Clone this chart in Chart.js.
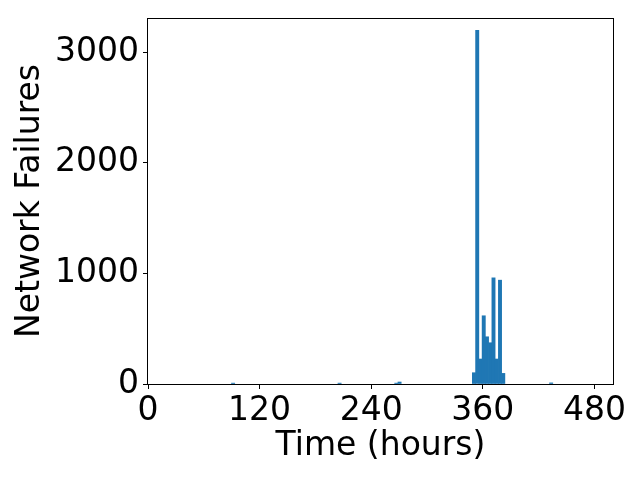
<!DOCTYPE html>
<html>
<head>
<meta charset="utf-8">
<script src="https://cdn.jsdelivr.net/npm/chart.js@4"></script>
<style>
  body { margin: 0; background: #fff; }
</style>
</head>
<body>
<canvas id="chart" width="640" height="480"></canvas>
<script>
// histogram bins (center of bin, in hours) and counts
const binCenters = [91.5, 206, 267, 270.5, 350.5, 354, 357.5, 361, 364.5, 368, 371.5, 375, 378.5, 382, 433.5];
const failureCounts = [8, 8, 8, 18, 102, 3198, 226, 617, 427, 373, 960, 226, 939, 96, 10];
const xTicks = [0, 120, 240, 360, 480];
const yTicks = [0, 1000, 2000, 3000];

const font = { family: "DejaVu Sans", size: 33 };

const boxPlugin = {
  id: "box",
  afterDatasetsDraw(chart) {
    const { ctx, chartArea } = chart;
    ctx.save();
    ctx.strokeStyle = "#000";
    ctx.lineWidth = 1;
    ctx.strokeRect(
      Math.round(chartArea.left) - 0.5,
      Math.round(chartArea.top) + 0.5,
      Math.round(chartArea.right - chartArea.left) + 1,
      Math.round(chartArea.bottom - chartArea.top)
    );
    ctx.restore();
  },
};

const points = binCenters.map((x, i) => ({ x: x, y: failureCounts[i] }));

const tickGrid = {
  display: true,
  offset: false,
  drawOnChartArea: false,
  drawTicks: true,
  tickLength: 5,
  color: "#000",
  tickColor: "#000",
};

new Chart(document.getElementById("chart"), {
  type: "bar",
  data: {
    datasets: [
      {
        data: points,
        backgroundColor: "#1f77b4",
        borderWidth: 0,
        barPercentage: 1,
        categoryPercentage: 1,
      },
    ],
  },
  options: {
    responsive: false,
    animation: false,
    layout: { padding: { top: 18, right: 27, left: 0, bottom: 0 } },
    plugins: { legend: { display: false }, tooltip: { enabled: false } },
    scales: {
      x: {
        type: "linear",
        min: 0,
        max: 500,
        offset: false,
        afterBuildTicks: (scale) => {
          scale.ticks = xTicks.map((v) => ({ value: v }));
        },
        afterFit: (scale) => {
          scale.height = 96;
          scale.paddingLeft = 0;
          scale.paddingRight = 0;
        },
        grid: tickGrid,
        border: { display: false },
        ticks: {
          color: "#000",
          font: font,
          padding: 3,
          maxRotation: 0,
          callback: (v) => String(v),
        },
        title: {
          display: true,
          text: "Time (hours)",
          color: "#000",
          font: font,
          padding: { top: 0, bottom: 14 },
        },
      },
      y: {
        min: 0,
        max: 3310,
        afterBuildTicks: (scale) => {
          scale.ticks = yTicks.map((v) => ({ value: v }));
        },
        afterFit: (scale) => {
          scale.width = 148;
          scale.paddingTop = 0;
          scale.paddingBottom = 0;
        },
        grid: tickGrid,
        border: { display: false },
        ticks: {
          color: "#000",
          font: font,
          padding: 4,
          callback: (v) => String(v),
        },
        title: {
          display: true,
          text: "Network Failures",
          color: "#000",
          font: font,
          padding: { top: 11, bottom: 0 },
        },
      },
    },
  },
  plugins: [boxPlugin],
});
</script>
</body>
</html>
